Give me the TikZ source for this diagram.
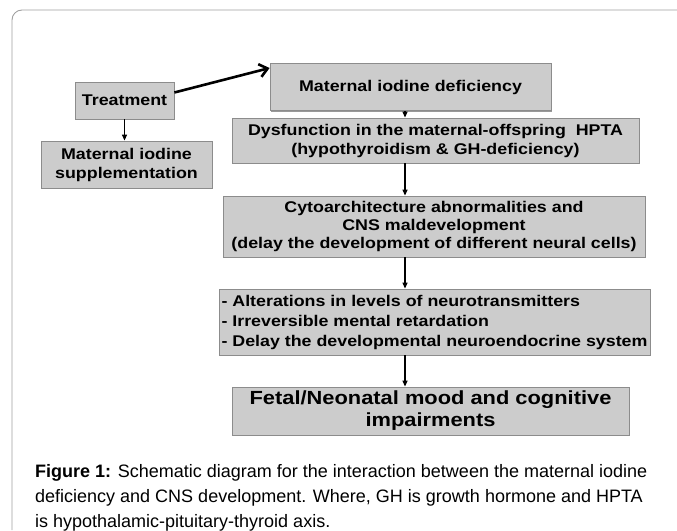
\documentclass[tikz,border=0pt]{standalone}
\usepackage{fontspec}
\setmainfont{Liberation Sans}
\newfontfamily\boxfont[FakeStretch=1.15]{Liberation Sans}
\usepackage{tikz}
\usetikzlibrary{
  arrows.meta,
  positioning,
  shadows
}
\usepackage{xcolor}
\definecolor{boxgray}{HTML}{CCCCCC}
\definecolor{edgegray}{HTML}{8C8C8C}
\definecolor{framegray}{HTML}{A0A0A0}
\tikzset{
  flowbox/.style={
    rectangle, draw=edgegray, fill=boxgray, line width=0.8pt,
    drop shadow={shadow xshift=1pt, shadow yshift=-1pt, fill=gray!80, opacity=1},
    font=\boxfont\bfseries\fontsize{15.5}{19}\selectfont,
    align=center, inner sep=0pt
  },
  arrow/.style={-{Triangle[length=6pt, width=5pt]}, line width=1.2pt},
  thickarrow/.style={-{Straight Barb[length=8pt, width=13pt]}, line width=2.6pt},
}

\begin{document}
\begin{tikzpicture}[x=1pt, y=-1pt]
\useasboundingbox (0,0) rectangle (677,530);

% outer frame
\draw[framegray, line width=0.9pt, rounded corners=10pt] (12,530) -- (12,10) -- (677,10);

% treatment branch (left side)
\node[flowbox, minimum width=99pt, minimum height=37pt] (treat) at (124.5,100.5) {Treatment};
\node[flowbox, minimum width=171pt, minimum height=47pt] (supp) at (126.5,164.5) {Maternal iodine\\supplementation};

% main chain
\node[flowbox, minimum width=281pt, minimum height=47pt] (mid) at (410.5,87) {Maternal iodine deficiency};
\node[flowbox, minimum width=407pt, minimum height=45pt] (dys) at (435.5,140.5) {Dysfunction in the maternal-offspring~ HPTA\\(hypothyroidism \& GH-deficiency)};
\node[flowbox, minimum width=422pt, minimum height=61pt, font=\boxfont\bfseries\fontsize{15.5}{18}\selectfont] (cyto) at (434,226.5) {Cytoarchitecture abnormalities and\\CNS maldevelopment\\(delay the development of different neural cells)};
\node[flowbox, minimum width=431pt, minimum height=66pt, align=left, font=\boxfont\bfseries\fontsize{15.5}{20}\selectfont] (alt) at (434.5,322) {- Alterations in levels of neurotransmitters\\- Irreversible mental retardation\\- Delay the developmental neuroendocrine system};
\node[flowbox, minimum width=397pt, minimum height=48pt, font=\boxfont\bfseries\fontsize{19}{22}\selectfont] (fetal) at (430.5,411) {Fetal/Neonatal mood and cognitive\\impairments};

% arrows
\coordinate (spine) at (405,0);
\draw[thickarrow] ([yshift=8pt]treat.east) -- ([yshift=19pt]mid.west);
\draw[arrow] (treat.south) -- (treat.south |- supp.north);
\draw[arrow] (spine |- mid.south) -- (spine |- dys.north);
\draw[arrow] (spine |- dys.south) -- (spine |- cyto.north);
\draw[arrow] (spine |- cyto.south) -- (spine |- alt.north);
\draw[arrow] (spine |- alt.south) -- (spine |- fetal.north);

% caption (base anchor sits on the last line)
\node[anchor=base west, align=left, inner sep=0pt, font=\fontsize{18}{25}\selectfont] (caption) at (35,527)
  {\textbf{Figure 1:} Schematic diagram for the interaction between the maternal iodine\\
   deficiency and CNS development. Where, GH is growth hormone and HPTA\\
   is hypothalamic-pituitary-thyroid axis.};

\end{tikzpicture}
\end{document}
